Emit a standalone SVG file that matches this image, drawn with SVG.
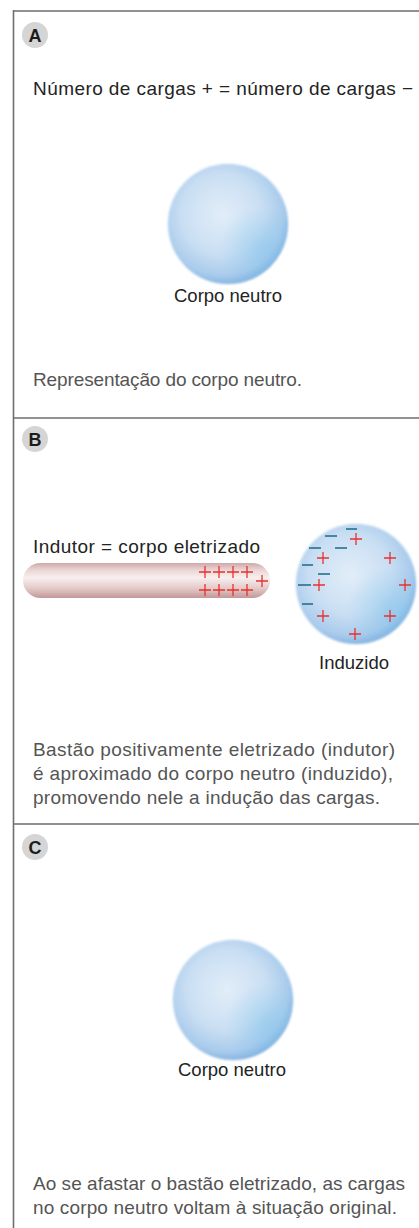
<svg xmlns="http://www.w3.org/2000/svg" width="419" height="1228" viewBox="0 0 419 1228">
  <defs>
    <style>
      .frame { stroke: #6e6e6e; stroke-width: 1.6; fill: none; }
      .badge circle { fill: #d5d5d5; }
      .badge text { font-family: "Liberation Sans", Arial, sans-serif; font-weight: bold; font-size: 18px; fill: #1c1c1c; text-anchor: middle; }
      .label { font-family: "Liberation Sans", Arial, sans-serif; font-size: 19px; fill: #232323; }
      .name { font-family: "Liberation Sans", Arial, sans-serif; font-size: 18.5px; fill: #232323; text-anchor: middle; }
      .caption { font-family: "Liberation Sans", Arial, sans-serif; font-size: 19px; fill: #555555; }
      .pos { stroke: #e8322e; stroke-width: 1.3; fill: none; }
      .neg { stroke: #1d6a86; stroke-width: 1.5; fill: none; }
    </style>
    <radialGradient id="sphereFill" cx="0.45" cy="0.42" r="0.6">
      <stop offset="0" stop-color="#e2edf8"/>
      <stop offset="0.55" stop-color="#cadff3"/>
      <stop offset="0.85" stop-color="#a9cbec"/>
      <stop offset="1" stop-color="#7eb0df"/>
    </radialGradient>
    <radialGradient id="sphereTint" cx="0.78" cy="0.7" r="0.35">
      <stop offset="0" stop-color="#7cc4ec" stop-opacity="0.45"/>
      <stop offset="1" stop-color="#7cc4ec" stop-opacity="0"/>
    </radialGradient>
    <linearGradient id="rodFill" x1="0" y1="0" x2="0" y2="1">
      <stop offset="0" stop-color="#cfa9a8"/>
      <stop offset="0.2" stop-color="#e9d6d5"/>
      <stop offset="0.42" stop-color="#f8efee"/>
      <stop offset="0.72" stop-color="#e4cac9"/>
      <stop offset="1" stop-color="#c29897"/>
    </linearGradient>
    <filter id="soft" x="-10%" y="-10%" width="120%" height="120%">
      <feGaussianBlur stdDeviation="0.8"/>
    </filter>
    <g id="sphere">
      <circle r="61" fill="#eef5fb" opacity="0.6" filter="url(#soft)"/>
      <circle r="60" fill="url(#sphereFill)" filter="url(#soft)"/>
      <circle r="60" fill="url(#sphereTint)"/>
    </g>
    <path id="plus" d="M-6 0H6M0 -6V6"/>
  </defs>

  <!-- panel frame: left rule, top rule and panel dividers -->
  <g id="frame">
    <path class="frame" d="M13.5 10V1228M13 11H419M13 418H419M13 824H419"/>
  </g>

  <!-- panel A: neutral body -->
  <g id="panel-a">
    <g class="badge"><circle cx="35" cy="35" r="13"/><text x="35" y="41.5">A</text></g>
    <text class="label" x="33" y="95" textLength="380" lengthAdjust="spacing">Número de cargas + = número de cargas −</text>
    <use href="#sphere" x="228" y="224"/>
    <text class="name" x="228" y="302">Corpo neutro</text>
    <text class="caption" x="33" y="386" textLength="269" lengthAdjust="spacing">Representação do corpo neutro.</text>
  </g>

  <!-- panel B: charged rod induces charges -->
  <g id="panel-b">
    <g class="badge"><circle cx="35" cy="439" r="13"/><text x="35" y="445.5">B</text></g>
    <text class="label" x="33" y="553" textLength="227" lengthAdjust="spacing">Indutor = corpo eletrizado</text>
    <g id="inductor">
      <rect x="23" y="563" width="247" height="35" rx="17.5" fill="url(#rodFill)"/>
      <g class="pos">
        <use href="#plus" x="205" y="572"/><use href="#plus" x="219" y="572"/>
        <use href="#plus" x="233" y="572"/><use href="#plus" x="247" y="572"/>
        <use href="#plus" x="205" y="590"/><use href="#plus" x="219" y="590"/>
        <use href="#plus" x="233" y="590"/><use href="#plus" x="247" y="590"/>
        <use href="#plus" x="262" y="581"/>
      </g>
    </g>
    <g id="induced">
      <use href="#sphere" x="356" y="584"/>
      <path class="neg" d="M346 529H357M325 536H337M309 548H321M335 548H347M302 565H313M318 574H330M298 585H311M302 604H313"/>
      <g class="pos">
        <use href="#plus" x="356" y="539"/>
        <use href="#plus" x="323" y="558"/>
        <use href="#plus" x="390" y="558"/>
        <use href="#plus" x="319" y="585"/>
        <use href="#plus" x="405" y="585"/>
        <use href="#plus" x="323" y="616"/>
        <use href="#plus" x="390" y="616"/>
        <use href="#plus" x="355" y="634"/>
      </g>
    </g>
    <text class="name" x="354" y="669">Induzido</text>
    <text class="caption" x="33" y="756" textLength="362" lengthAdjust="spacing">Bastão positivamente eletrizado (indutor)</text>
    <text class="caption" x="33" y="780" textLength="360" lengthAdjust="spacing">é aproximado do corpo neutro (induzido),</text>
    <text class="caption" x="33" y="804" textLength="347" lengthAdjust="spacing">promovendo nele a indução das cargas.</text>
  </g>

  <!-- panel C: rod removed, body neutral again -->
  <g id="panel-c">
    <g class="badge"><circle cx="35" cy="847" r="13"/><text x="35" y="853.5">C</text></g>
    <use href="#sphere" x="233" y="1000"/>
    <text class="name" x="232" y="1076">Corpo neutro</text>
    <text class="caption" x="33" y="1190" textLength="372" lengthAdjust="spacing">Ao se afastar o bastão eletrizado, as cargas</text>
    <text class="caption" x="33" y="1214" textLength="364" lengthAdjust="spacing">no corpo neutro voltam à situação original.</text>
  </g>
</svg>
